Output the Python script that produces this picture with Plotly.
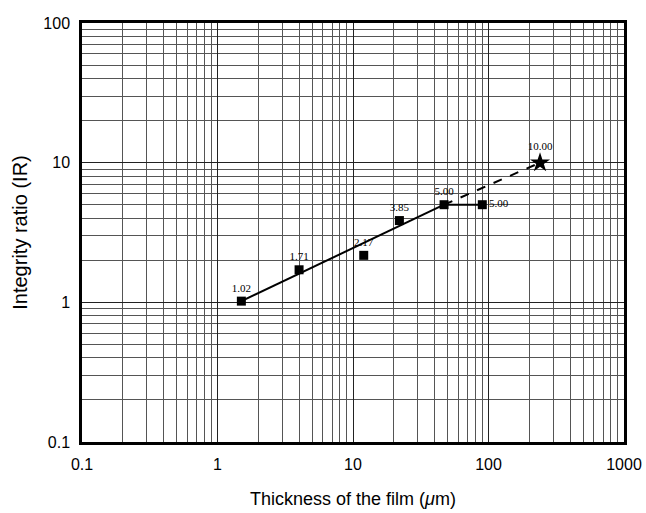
import plotly.graph_objects as go

# Data
thickness = [1.5, 4, 12, 22, 47, 90]
ir_values = [1.02, 1.71, 2.17, 3.85, 5.00, 5.00]
point_labels = ["1.02", "1.71", "2.17", "3.85", "5.00", "5.00"]

fit_x = [1.5, 47]
fit_y = [1.02, 5.00]
plateau_x = [47, 90]
plateau_y = [5.00, 5.00]
extrap_x = [47, 240]
extrap_y = [5.00, 10.00]
star_x = [240]
star_y = [10.00]
star_label = ["10.00"]

x_ticks = [0.1, 1, 10, 100, 1000]
x_tick_text = ["0.1", "1", "10", "100", "1000"]
y_ticks = [0.1, 1, 10, 100]
y_tick_text = ["0.1", "1", "10", "100"]

label_pos = ["top center", "top center", "top center", "top center", "top center", "middle right"]

fig = go.Figure()

fig.add_trace(go.Scatter(x=fit_x, y=fit_y, mode="lines",
                         line=dict(color="black", width=2), showlegend=False))
fig.add_trace(go.Scatter(x=plateau_x, y=plateau_y, mode="lines",
                         line=dict(color="black", width=2), showlegend=False))
fig.add_trace(go.Scatter(x=extrap_x, y=extrap_y, mode="lines",
                         line=dict(color="black", width=2, dash="dash"), showlegend=False))
fig.add_trace(go.Scatter(x=thickness, y=ir_values, mode="markers+text",
                         marker=dict(symbol="square", size=9, color="black"),
                         text=point_labels, textposition=label_pos,
                         textfont=dict(family="Liberation Serif", size=11, color="black"),
                         showlegend=False))
fig.add_trace(go.Scatter(x=star_x, y=star_y, mode="markers+text",
                         marker=dict(symbol="star", size=15, color="black"),
                         text=star_label, textposition="top center",
                         textfont=dict(family="Liberation Serif", size=11, color="black"),
                         showlegend=False))

axis_common = dict(
    type="log",
    automargin=False,
    showline=True, linecolor="black", linewidth=2.5, mirror=True,
    showgrid=True, gridcolor="#222", gridwidth=1,
    ticks="", zeroline=False,
    ticklabeloverflow="allow",
    minor=dict(showgrid=True, gridcolor="#555", gridwidth=0.8, dtick="D1", ticks=""),
)

fig.update_xaxes(**axis_common, range=[-1, 3], tickvals=x_ticks, ticktext=x_tick_text,
                 ticklabelstandoff=6,
                 tickfont=dict(family="Liberation Sans", size=16, color="black"),
                 title=dict(text="Thickness of the film (<i>μ</i>m)",
                            font=dict(family="Liberation Sans", size=18, color="black"),
                            standoff=21))
fig.update_yaxes(**axis_common, range=[-1, 2], tickvals=y_ticks, ticktext=y_tick_text,
                 ticklabelstandoff=6,
                 tickfont=dict(family="Liberation Sans", size=16, color="black"),
                 title=dict(text="Integrity ratio (IR)",
                            font=dict(family="Liberation Sans", size=20, color="black"),
                            standoff=11))

fig.update_layout(
    width=646, height=513,
    margin=dict(l=82, r=22, t=23, b=71),
    plot_bgcolor="white", paper_bgcolor="white",
)

fig.write_html("out.html",
               config={"displayModeBar": False},
               post_script="document.body.style.margin='0';document.body.style.overflow='hidden';")
